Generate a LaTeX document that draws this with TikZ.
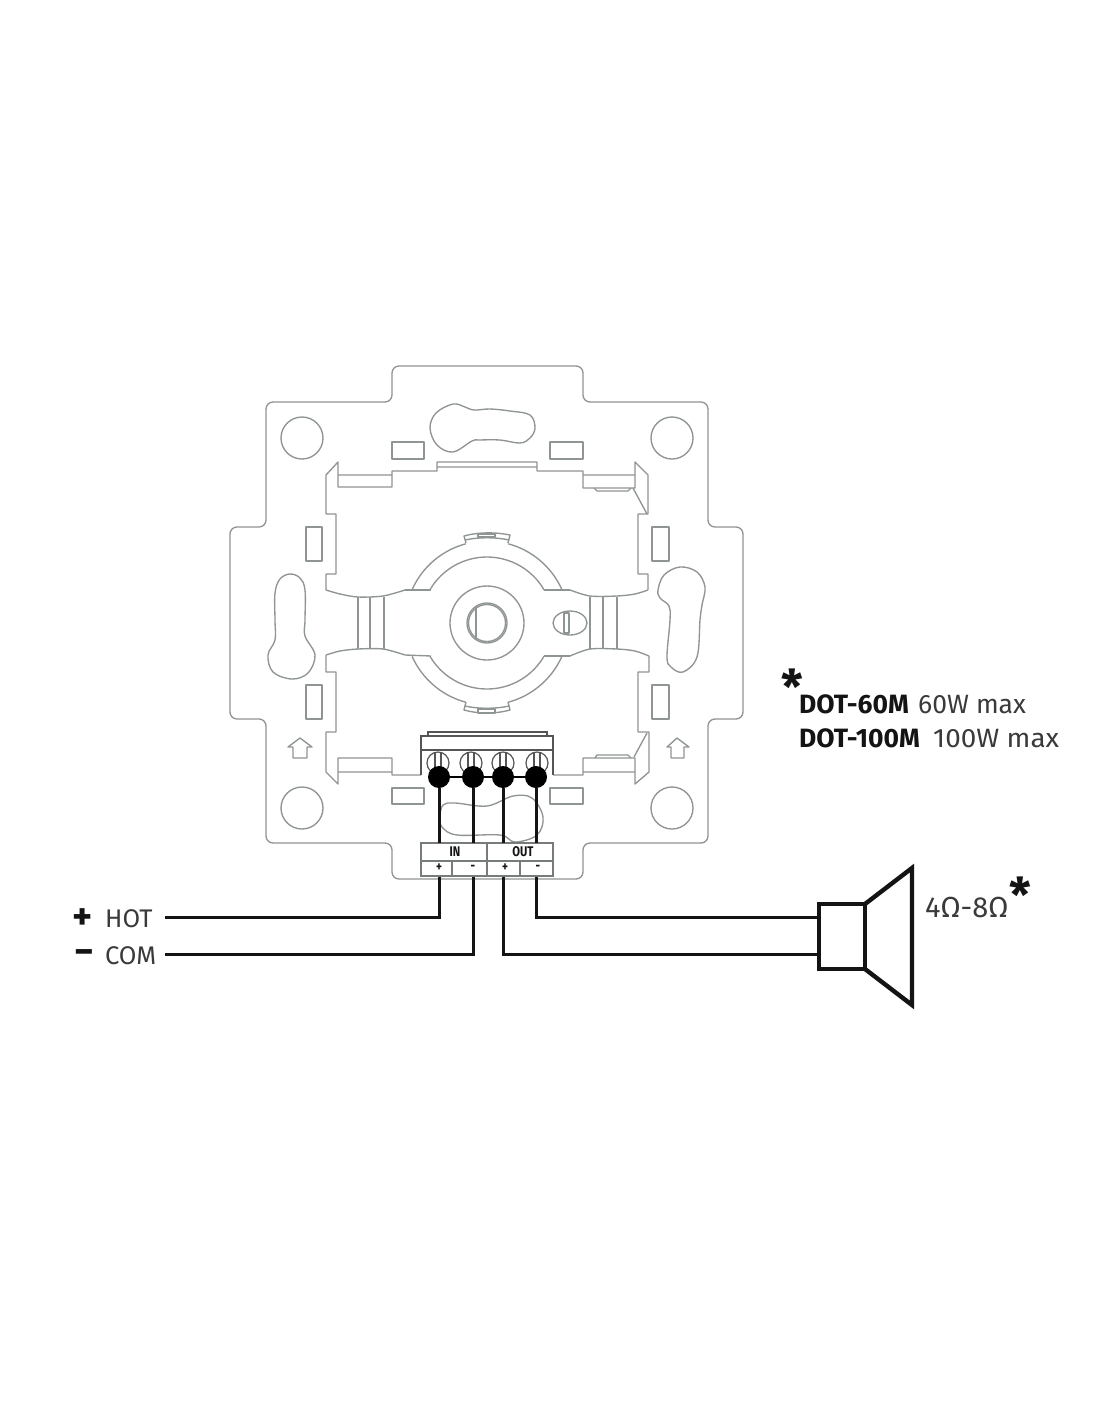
\documentclass[tikz,border=0pt]{standalone}
\usepackage{fontspec}
\setmainfont{Fira Sans}
\definecolor{plate}{HTML}{8F9593}
\definecolor{blockc}{HTML}{555555}
\definecolor{labelc}{HTML}{777B7A}
\definecolor{ink}{HTML}{141414}
\definecolor{thin}{HTML}{3A3A3A}
\tikzset{
  pl/.style={draw=plate,line width=1.35pt,line join=round},
  blk/.style={draw=blockc,line width=1.2pt},
  lab/.style={draw=labelc,line width=1.3pt},
  wire/.style={draw=ink,line width=3pt,line join=miter},
  dotb/.style={circle,fill=black,draw=none,minimum size=22pt,inner sep=0pt},
  txt/.style={text=thin,font=\fontsize{25.5}{25.5}\selectfont,inner sep=0pt},
  boldt/.style={text=ink,font=\fontsize{26.5}{26.5}\selectfont\bfseries,inner sep=0pt,anchor=base west},
  regt/.style={text=thin,font=\fontsize{26.5}{26.5}\selectfont,inner sep=0pt,anchor=base west},
  star/.style={text=ink,font=\fontsize{48}{48}\selectfont\bfseries,inner sep=0pt,anchor=center},
  sign/.style={text=ink,font=\fontsize{38}{38}\selectfont\bfseries,inner sep=0pt},
  small/.style={text=ink,font=\fontsize{14}{14}\selectfont\bfseries,inner sep=0pt,xscale=.8},
  spk/.style={draw=ink,line width=4.4pt,line join=miter,fill=white}
}
\begin{document}
\begin{tikzpicture}[x=1pt,y=-1pt]
\useasboundingbox (0,0) rectangle (1100,1422);
\fill[white] (0,0) rectangle (1100,1422);
% plate outline
\draw[pl,rounded corners=7pt] (392,366)--(583,366)--(583,402)--(708,402)--(708,527)--(743,527)--(743,719)--(708,719)--(708,843)--(583,843)--(583,879)--(392,879)--(392,843)--(266,843)--(266,719)--(230,719)--(230,527)--(266,527)--(266,402)--(392,402)--cycle;
% mounting holes
\foreach \cx/\cy in {302/438,672/438,302/808,672/808} \draw[pl] (\cx,\cy) circle[radius=21pt];
% slots
\draw[pl] plot[smooth cycle,tension=.6] coordinates {(430,428)(436,413)(453,404)(465,407)(474,410)(490,409)(510,411)(530,415)(535,428)(530,438)(520,443)(500,440)(480,440)(472,441)(453,452)(437,445)};
\draw[pl] plot[smooth cycle,tension=.6] coordinates {(275,593)(280,579)(290,574)(300,578)(305,590)(305,620)(305,636)(315,655)(308,673)(292,679)(273,672)(268,655)(275,640)(275,620)};
\draw[pl] plot[smooth cycle,tension=.6] coordinates {(658,590)(664,575)(680,567)(697,572)(705,587)(702,605)(700,620)(697,657)(683,672)(671,667)(667,657)(670,620)(669,606)(660,598)};
\draw[pl] plot[smooth cycle,tension=.6] coordinates {(442,827)(440,817)(443,805)(455,803)(487,806)(513,796)(532,798)(543,817)(537,835)(515,842)(500,835)(457,835)};
% small rectangles
\foreach \xa/\ya/\xb/\yb in {392/442/424/459,550/442/583/459,392/788/424/804,550/788/583/804,306/527/322/561,652/527/669/561,306/685/322/719,652/685/669/719}
  \draw[pl] (\xa,\ya) rectangle (\xb,\yb);
% arrows
\draw[pl] (300,738)--(288,747)--(293,747)--(293,758)--(307,758)--(307,747)--(312,747)--cycle;
\draw[pl] (677,738)--(667,747)--(671,747)--(671,758)--(684,758)--(684,747)--(689,747)--cycle;
% opening, top
\draw[pl] (326,590)--(326,574)--(336,574)--(336,514)--(326,514)--(326,475)--(338,462)--(338,487)--(392,487)--(392,471)--(437,471)--(437,462)--(537,462)--(537,471)--(583,471)--(583,488)--(635,488)--(635,462)--(648,475)--(648,514)--(638,514)--(638,574)--(648,574)--(648,590);
\draw[pl] (338,475)--(392,475) (437,467)--(537,467) (583,475)--(635,475) (633,488)--(647,514) (594,488)--(597,491)--(628,491)--(631,488);
% opening, bottom
\draw[pl] (326,655)--(326,672)--(336,672)--(336,732)--(326,732)--(326,772)--(338,784)--(338,758)--(392,758)--(392,775)--(421,775);
\draw[pl] (553,775)--(583,775)--(583,758)--(635,758)--(635,784)--(649,772)--(649,732)--(638,732)--(638,672)--(649,672)--(649,656);
\draw[pl] (338,772)--(392,772) (583,772)--(635,772) (647,733)--(634,757) (595,758)--(597,755)--(628,755)--(631,758);
% waist
\draw[pl] plot[smooth,tension=.5] coordinates {(326,590)(340,594)(358,597)(383,596)(405,590)};
\draw[pl] (405,590)--(431,590);
\draw[pl] plot[smooth,tension=.5] coordinates {(570,590)(590,596)(617,596)(635,594)(648,590)};
\draw[pl] (544,590)--(570,590);
\draw[pl] plot[smooth,tension=.5] coordinates {(326,655)(340,651)(358,649)(383,649)(405,655)};
\draw[pl] (405,655)--(431,656);
\draw[pl] plot[smooth,tension=.5] coordinates {(570,656)(590,649)(617,649)(635,651)(649,656)};
\draw[pl] (544,656)--(570,656);
\foreach \vx in {358,370,384,590,603,617} \draw[pl] (\vx,597)--(\vx,649);
% hub arcs
\draw[pl] plot[domain=150:30,samples=40] ({487+66*cos(\x)},{623-66*sin(\x)});
\draw[pl] plot[domain=210:330,samples=40] ({487+66*cos(\x)},{623-66*sin(\x)});
\draw[pl] plot[domain=156:105,samples=20] ({487+82*cos(\x)},{623-82*sin(\x)});
\draw[pl] plot[domain=75:24,samples=20] ({487+82*cos(\x)},{623-82*sin(\x)});
\draw[pl] plot[domain=204:255,samples=20] ({487+82*cos(\x)},{623-82*sin(\x)});
\draw[pl] plot[domain=285:336,samples=20] ({487+82*cos(\x)},{623-82*sin(\x)});
% tabs
\draw[pl] (466,543)--(464,536) .. controls (478,532) and (496,532) .. (510,535)--(508,543);
\draw[pl] (465,540) .. controls (478,537) and (496,537) .. (509,540);
\draw[pl] (478,534) rectangle (495,537);
\draw[pl] (466,702)--(464,710) .. controls (478,714) and (496,714) .. (510,710)--(508,702);
\draw[pl] (465,706) .. controls (478,709) and (496,709) .. (509,706);
\draw[pl] (478,709) rectangle (495,713);
% hub
\draw[pl] (487,623) circle[radius=37pt];
\draw[pl] (487,623) circle[radius=20pt];
\draw[pl] (487,623) circle[radius=18.5pt];
\draw[pl] (476,607)--(476,640);
\draw[pl] (570,623) ellipse[x radius=17pt,y radius=12pt];
\draw[pl] (564,613) rectangle (569,633);
% terminal block
\draw[blk] (428,736)--(428,732)--(547,732)--(547,736);
\draw[blk,fill=white] (421,736) rectangle (553,750);
\draw[blk] (421,750)--(421,775) (553,750)--(553,775);
\foreach \sx in {438,471,503,537} {
  \draw[blk] (\sx,763) circle[radius=11pt];
  \draw[blk] (\sx-3,752)--(\sx-3,770) (\sx+3,752)--(\sx+3,770);
}
% terminal labels
\draw[lab,fill=white] (421,843) rectangle (553,876);
\draw[lab] (421,861)--(553,861) (487,843)--(487,876) (452,861)--(452,876) (520,861)--(520,876);
\node[small] (inlab) at (455,851.5) {IN};
\node[small] (outlab) at (523,851.5) {OUT};
\node[small] (tp1) at (439,868) {+};
\node[small] (tm1) at (473,868) {-};
\node[small] (tp2) at (505,868) {+};
\node[small] (tm2) at (538,868) {-};
% connection dots
\node[dotb] (d1) at (439,777) {};
\node[dotb] (d2) at (473,777) {};
\node[dotb] (d3) at (503,777) {};
\node[dotb] (d4) at (536,777) {};
\draw[draw=black,line width=1.2pt] (d1)--(d4);
\coordinate (a1) at (439,843);
\coordinate (a2) at (473,843);
\coordinate (a3) at (503,843);
\coordinate (a4) at (536,843);
\draw[wire] (d1)--(a1);
\draw[wire] (d2)--(a2);
\draw[wire] (d3)--(a3);
\draw[wire] (d4)--(a4);
% speaker
\node[spk,minimum width=46pt,minimum height=65pt,inner sep=0pt,outer sep=0pt] (box) at (842,936.5) {};
\coordinate (c1) at (865,904);
\coordinate (c2) at (865,969);
\coordinate (c3) at (912,868);
\coordinate (c4) at (912,1005);
\draw[spk,fill=none] (c1)--(c3)--(c4)--(c2);
% left labels and wires
\node[sign] (plus) at (83,919) {+};
\node[sign] (minus) at (84,957) {−};
\node[txt,anchor=base west] (hot) at (105,927) {HOT};
\node[txt,anchor=base west] (com) at (105,964) {COM};
\coordinate (h1) at (165,917);
\coordinate (h2) at (165,954);
\coordinate (b1) at (439,877);
\coordinate (b2) at (473,877);
\coordinate (b3) at (503,877);
\coordinate (b4) at (536,877);
\coordinate (s1) at (817,917);
\coordinate (s2) at (817,954);
\draw[wire] (h1)-|(b1);
\draw[wire] (h2)-|(b2);
\draw[wire] (b3)|-(s2);
\draw[wire] (b4)|-(s1);
% texts right
\node[star] (st1) at (792,687) {*};
\node[boldt] (dot60) at (799,713) {DOT-60M};
\node[regt] (w60) at (918,713) {60W max};
\node[boldt] (dot100) at (799,747) {DOT-100M};
\node[regt,xscale=1.05] (w100) at (933,747) {100W max};
\node[regt,font=\fontsize{29}{29}\selectfont] (ohm) at (925,917) {4Ω-8Ω};
\node[star] (st2) at (1020,895) {*};
\end{tikzpicture}
\end{document}
